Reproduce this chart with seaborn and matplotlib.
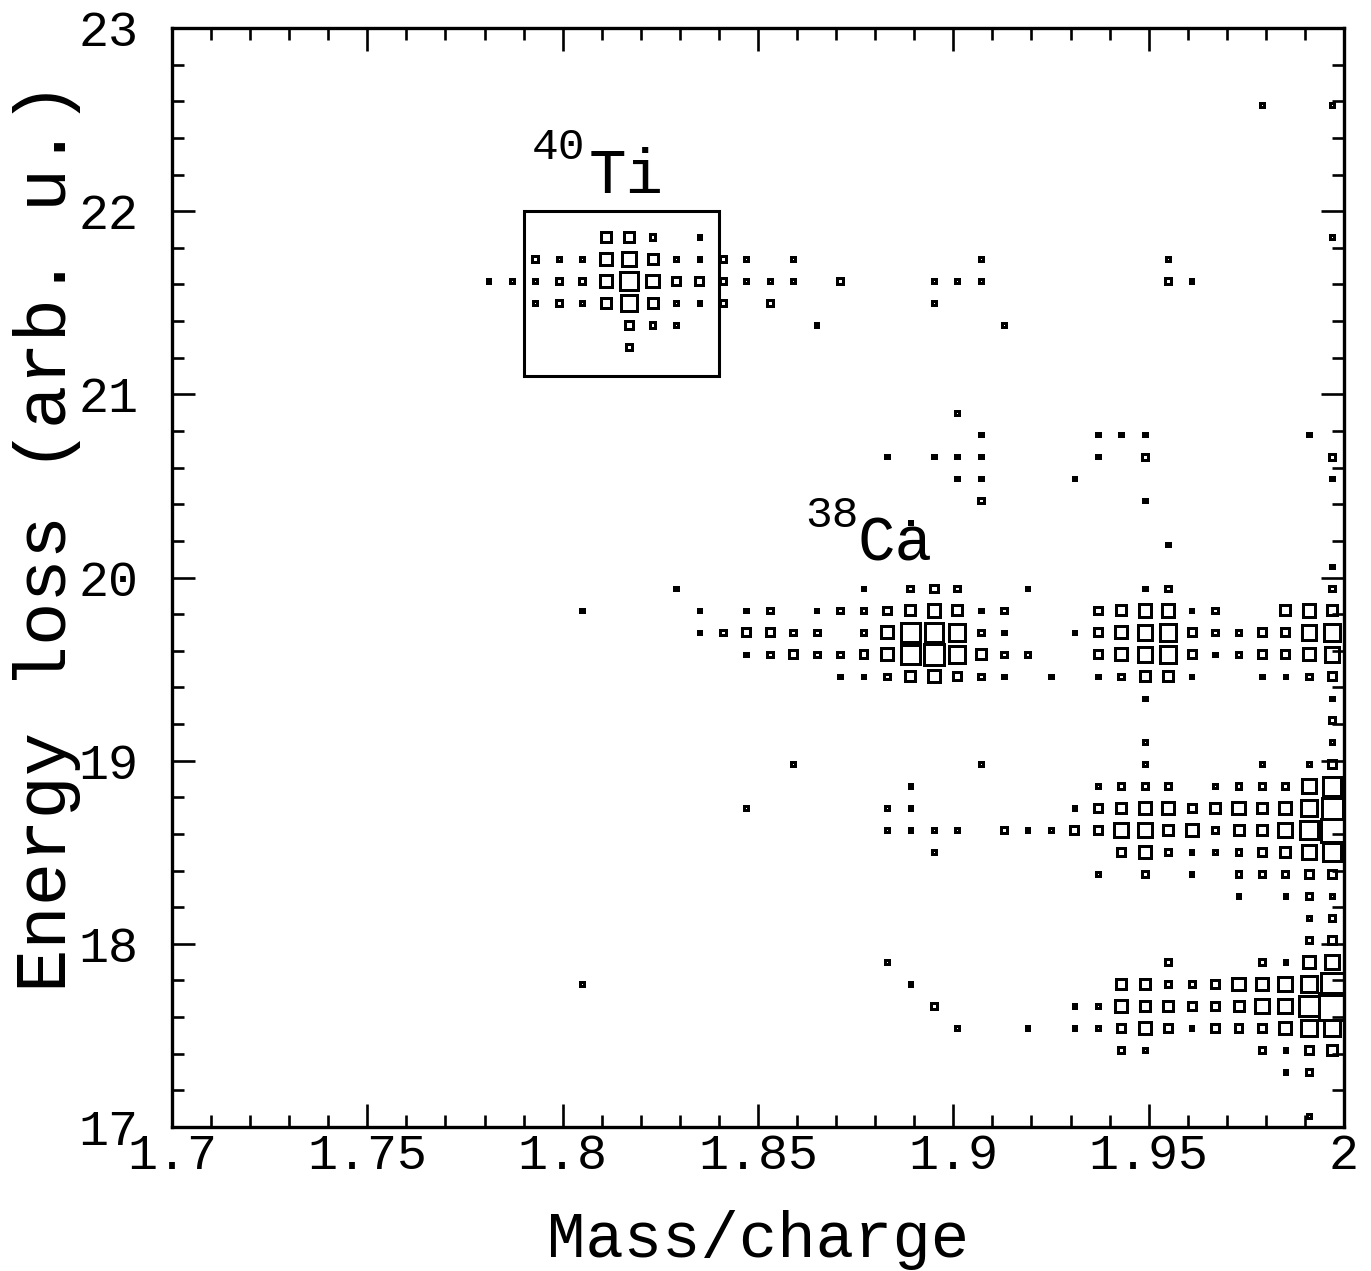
import numpy as np
import pandas as pd
import seaborn as sns
import matplotlib
matplotlib.use("Agg")
import matplotlib.pyplot as plt
from matplotlib.patches import Rectangle
from matplotlib.ticker import MultipleLocator, FormatStrFormatter

# Histogram binning: 50 x 50 bins
MQ_RANGE = (1.7, 2.0)
ELOSS_RANGE = (17.0, 23.0)
N_BINS = 50

# Bin contents: energy-loss bin index -> [(mass/charge bin index, counts), ...]
bin_counts = {
    46: [(46, 1), (49, 1)],
    40: [(18, 4), (19, 4), (20, 2), (22, 1), (49, 1)],
    39: [(15, 2), (16, 1), (17, 1), (18, 5), (19, 6), (20, 4), (21, 1), (22, 1),
         (23, 2), (24, 1), (26, 1), (34, 1), (42, 1)],
    38: [(13, 1), (14, 1), (15, 1), (16, 2), (17, 2), (18, 5), (19, 8), (20, 5),
         (21, 3), (22, 3), (23, 2), (24, 1), (25, 1), (26, 1), (28, 2), (32, 1),
         (33, 1), (34, 1), (42, 2), (43, 1)],
    37: [(15, 1), (16, 2), (17, 1), (18, 4), (19, 7), (20, 4), (21, 1), (22, 1),
         (23, 2), (25, 2), (32, 1)],
    36: [(19, 3), (20, 2), (21, 1), (27, 1), (35, 1)],
    35: [(19, 2)],
    32: [(33, 1)],
    31: [(34, 1), (39, 1), (40, 1), (41, 1), (48, 1)],
    30: [(30, 1), (32, 1), (33, 1), (34, 1), (39, 1), (41, 2), (49, 2)],
    29: [(33, 1), (34, 1), (38, 1), (49, 1)],
    28: [(34, 2), (41, 1)],
    27: [(31, 1)],
    26: [(42, 1)],
    25: [(49, 1)],
    24: [(21, 1), (29, 1), (31, 2), (32, 3), (33, 2), (36, 1), (41, 1), (42, 2), (49, 2)],
    23: [(17, 1), (22, 1), (24, 1), (25, 2), (27, 1), (28, 2), (29, 2), (30, 3),
         (31, 4), (32, 5), (33, 4), (34, 1), (35, 2), (39, 3), (40, 4), (41, 5),
         (42, 5), (43, 1), (44, 2), (47, 4), (48, 5), (49, 4)],
    22: [(22, 1), (23, 2), (24, 3), (25, 3), (26, 2), (27, 2), (29, 2), (30, 5),
         (31, 8), (32, 8), (33, 7), (34, 2), (35, 1), (38, 1), (39, 3), (40, 5),
         (41, 6), (42, 7), (43, 3), (44, 2), (45, 2), (46, 3), (47, 3), (48, 6), (49, 7)],
    21: [(24, 1), (25, 2), (26, 3), (27, 2), (28, 2), (29, 3), (30, 5), (31, 8),
         (32, 9), (33, 7), (34, 4), (35, 2), (36, 2), (39, 3), (40, 5), (41, 6),
         (42, 7), (43, 3), (44, 1), (45, 2), (46, 3), (47, 3), (48, 5), (49, 6)],
    20: [(28, 1), (29, 1), (30, 2), (31, 4), (32, 5), (33, 3), (34, 2), (35, 1),
         (37, 1), (39, 1), (40, 2), (41, 4), (42, 4), (43, 1), (46, 1), (47, 1),
         (48, 2), (49, 3)],
    19: [(41, 1), (49, 1)],
    18: [(49, 2)],
    17: [(41, 1), (49, 1)],
    16: [(26, 1), (34, 1), (41, 1), (46, 1), (48, 1), (49, 3)],
    15: [(31, 1), (39, 1), (40, 2), (41, 2), (42, 2), (44, 1), (45, 2), (46, 2),
         (47, 2), (48, 6), (49, 8)],
    14: [(24, 1), (30, 1), (31, 1), (38, 1), (39, 3), (40, 4), (41, 5), (42, 5),
         (43, 3), (44, 4), (45, 5), (46, 4), (47, 5), (48, 7), (49, 9)],
    13: [(30, 1), (31, 1), (32, 1), (33, 1), (35, 2), (36, 1), (37, 1), (38, 3),
         (39, 3), (40, 6), (41, 6), (42, 4), (43, 5), (44, 2), (45, 4), (46, 4),
         (47, 6), (48, 8), (49, 10)],
    12: [(32, 1), (40, 3), (41, 5), (42, 2), (43, 1), (44, 1), (45, 2), (46, 3),
         (47, 4), (48, 6), (49, 8)],
    11: [(39, 1), (41, 2), (43, 1), (45, 2), (46, 2), (47, 2), (48, 3), (49, 3)],
    10: [(45, 1), (47, 1), (48, 2), (49, 1)],
    9: [(48, 1), (49, 2)],
    8: [(48, 2), (49, 3)],
    7: [(30, 1), (42, 2), (46, 2), (47, 1), (48, 5), (49, 6)],
    6: [(17, 1), (31, 1), (40, 4), (41, 4), (42, 2), (43, 2), (44, 3), (45, 5),
        (46, 5), (47, 6), (48, 7), (49, 10)],
    5: [(32, 2), (38, 1), (39, 1), (40, 5), (41, 4), (42, 4), (43, 3), (44, 3),
        (45, 4), (46, 6), (47, 6), (48, 9), (49, 12)],
    4: [(33, 1), (36, 1), (38, 1), (39, 1), (40, 3), (41, 5), (42, 3), (43, 1),
        (44, 3), (45, 3), (46, 3), (47, 5), (48, 7), (49, 7)],
    3: [(40, 2), (41, 1), (46, 2), (47, 1), (48, 3), (49, 4)],
    2: [(47, 1), (48, 2)],
    0: [(48, 1)],
}

# Gate drawn around the 40Ti group (mass/charge and energy-loss limits)
ti_gate_mq = (1.79, 1.84)
ti_gate_eloss = (21.1, 22.0)

# Isotope labels: mass number and element, each anchored in data coordinates
isotope_mass = ["40", "38"]
isotope_mass_xy = [(1.7922, 22.286), (1.8622, 20.273)]
isotope_elem = ["Ti", "Ca"]
isotope_elem_xy = [(1.8066, 22.099), (1.8755, 20.093)]

# ---------------------------------------------------------------------------
mq_edges = np.linspace(*MQ_RANGE, N_BINS + 1)
el_edges = np.linspace(*ELOSS_RANGE, N_BINS + 1)
mq_centers = 0.5 * (mq_edges[:-1] + mq_edges[1:])
el_centers = 0.5 * (el_edges[:-1] + el_edges[1:])

records = [(mq_centers[k], el_centers[j], c)
           for j, cells in bin_counts.items() for k, c in cells]
df = pd.DataFrame(records, columns=["mass_charge", "energy_loss", "counts"])

sns.set_theme(style="ticks")
plt.rcParams["font.family"] = ["Liberation Mono", "DejaVu Sans Mono"]

DPI = 100
fig = plt.figure(figsize=(13.71, 12.71), dpi=DPI)
ax = fig.add_axes([172 / 1371, 1 - 1127 / 1271, 1172 / 1371, 1099 / 1271])

px = 72.0 / DPI  # points per pixel
levels = sorted(df["counts"].unique())
# box side grows with bin content
size_map = {c: (px * (1.6 + 2.1 * c)) ** 2 for c in levels}

sns.scatterplot(data=df, x="mass_charge", y="energy_loss", size="counts",
                sizes=size_map, marker="s", legend=False, ax=ax, zorder=3)
boxes = ax.collections[0]
boxes.set_facecolor("none")
boxes.set_edgecolor("black")
boxes.set_linewidth(2.1)
boxes.set_antialiased(False)

ax.add_patch(Rectangle((ti_gate_mq[0], ti_gate_eloss[0]),
                       ti_gate_mq[1] - ti_gate_mq[0],
                       ti_gate_eloss[1] - ti_gate_eloss[0],
                       fill=False, edgecolor="black", linewidth=2.2, zorder=4))

for txt, (xm, ye) in zip(isotope_mass, isotope_mass_xy):
    ax.text(xm, ye, txt, fontsize=32, color="black", va="baseline", ha="left")
for txt, (xm, ye) in zip(isotope_elem, isotope_elem_xy):
    ax.text(xm, ye, txt, fontsize=45, color="black", va="baseline", ha="left")

ax.set_xlim(*MQ_RANGE)
ax.set_ylim(*ELOSS_RANGE)
ax.xaxis.set_major_locator(MultipleLocator(0.05))
ax.xaxis.set_minor_locator(MultipleLocator(0.01))
ax.yaxis.set_major_locator(MultipleLocator(1))
ax.yaxis.set_minor_locator(MultipleLocator(0.2))
ax.xaxis.set_major_formatter(FormatStrFormatter("%g"))
ax.yaxis.set_major_formatter(FormatStrFormatter("%g"))

ax.tick_params(which="both", direction="in", top=True, right=True,
               width=1.9, color="black", labelcolor="black")
ax.tick_params(which="major", length=16.5, labelsize=36)
ax.tick_params(axis="x", which="major", pad=4)
ax.tick_params(axis="y", which="major", pad=24)
ax.tick_params(which="minor", length=8.3)
for sp in ax.spines.values():
    sp.set_linewidth(2.4)
    sp.set_color("black")

ax.set_xlabel("Mass/charge", fontsize=46, color="black")
ax.set_ylabel("Energy loss (arb. u.)", fontsize=52, color="black")
ax.xaxis.set_label_coords(0.5, -0.0755)
ax.yaxis.set_label_coords(-0.078, 0.537)

fig.savefig("out.png", dpi=DPI, facecolor="white")
